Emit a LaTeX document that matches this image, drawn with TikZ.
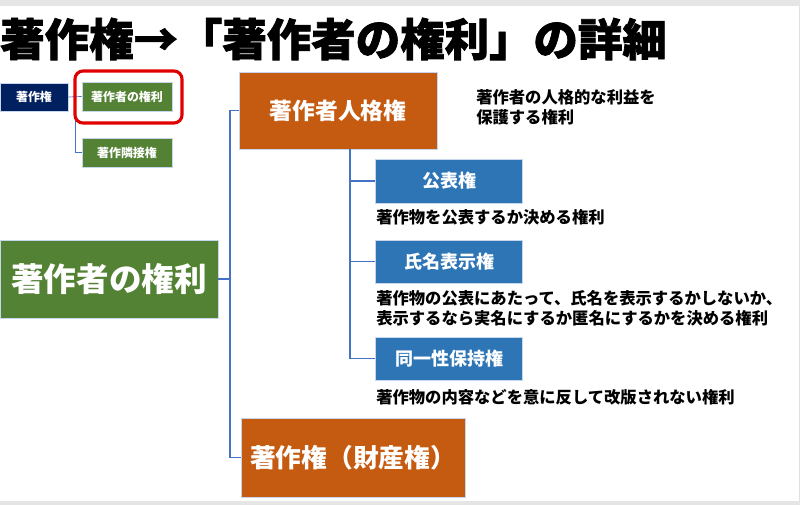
\documentclass[tikz,border=0pt]{standalone}
\usepackage{fontspec}
\setmainfont{Noto Sans CJK JP}
\newfontfamily\titlefont{Noto Sans CJK JP}[BoldFeatures={FakeBold=1.6}]
\definecolor{kenGreen}{HTML}{548235}
\definecolor{kenOrange}{HTML}{C55A11}
\definecolor{kenBlue}{HTML}{2E75B6}
\definecolor{kenNavy}{HTML}{002060}
\definecolor{kenLine}{HTML}{4472C4}
\definecolor{kenRed}{HTML}{E00000}
\newdimen\pxu \pxu=0.025cm
\newcommand{\fsz}[1]{\fontsize{#1}{1.25\dimexpr #1pt\relax}\selectfont}
\usetikzlibrary{positioning}

\begin{document}
\begin{tikzpicture}[x=0.025cm, y=-0.025cm,
    box/.style={rectangle, draw=white!70!kenLine, line width=0.4pt, inner sep=0pt, text=white, align=center, font=\bfseries},
    smallbox/.style={box, minimum width=90\pxu, minimum height=29\pxu, fill=kenGreen, font=\bfseries\fsz{8.5}},
    subbox/.style={box, fill=kenBlue, minimum width=147\pxu, minimum height=43\pxu, font=\bfseries\fsz{12.8}},
    desc/.style={anchor=west, inner sep=0pt, align=left, font=\bfseries\fontsize{11.6}{14}\selectfont},
    link/.style={draw=kenLine, line width=0.8pt}
]
\useasboundingbox (0,0) rectangle (800,505);
\fill[black!10] (0,0) rectangle (800,6);
\fill[black!10] (0,501) rectangle (800,505);
\draw[black!12] (799,6) -- (799,501);

% title
\node[anchor=west, inner sep=0pt, font=\titlefont\bfseries\fsz{31.6}] (title) at (0,39) {著作権→「著作者の権利」の詳細};

% small overview
\node[smallbox, fill=kenNavy, minimum width=68\pxu, minimum height=28\pxu] (copyright) at (34,97) {著作権};
\node[smallbox] (authsmall) at (127,96.5) {著作者の権利};
\node[smallbox] (neighbor) at (127,152.5) {著作隣接権};
\coordinate (sj) at (75,97);
\draw[link, line width=0.5pt] (copyright.east) -- (authsmall.west);
\draw[link, line width=0.5pt] (sj) |- (neighbor.west);
\draw[kenRed, line width=2.2pt, rounded corners=8\pxu] (75,71) rectangle (182,123);

% main tree
\node[box, fill=kenGreen, minimum width=218\pxu, minimum height=78\pxu, font=\bfseries\fsz{23.2}] (rights) at (109,279) {著作者の権利};
\node[box, fill=kenOrange, minimum width=198\pxu, minimum height=77\pxu, font=\bfseries\fsz{16.2}] (moral) at (338,110.5) {著作者人格権};
\node[box, fill=kenOrange, minimum width=224\pxu, minimum height=79\pxu, font=\bfseries\fsz{18.3}] (property) at (353,457.5) {著作権（財産権）};
\coordinate (trunk) at (230,279);
\draw[link] (rights.east) -- (trunk);
\draw[link] (trunk) |- (moral.west);
\draw[link] (trunk) |- (property.west);

\node[desc] (moraldesc) at (476,107) {著作者の人格的な利益を\\保護する権利};

% moral rights
\node[subbox, minimum height=44\pxu] (publish) at (449,181) {公表権};
\node[subbox] (naming) at (449,261.5) {氏名表示権};
\node[subbox] (integrity) at (449,358.5) {同一性保持権};
\draw[link] ([xshift=12\pxu]moral.south) |- (publish.west);
\draw[link] ([xshift=12\pxu]moral.south) |- (naming.west);
\draw[link] ([xshift=12\pxu]moral.south) |- (integrity.west);

\node[desc] (pubdesc) at (376,217) {著作物を公表するか決める権利};
\node[desc] (namedesc) at (376,308.5) {著作物の公表にあたって、氏名を表示するかしないか、\\表示するなら実名にするか匿名にするかを決める権利};
\node[desc] (integdesc) at (376,397) {著作物の内容などを意に反して改版されない権利};
\end{tikzpicture}
\end{document}
